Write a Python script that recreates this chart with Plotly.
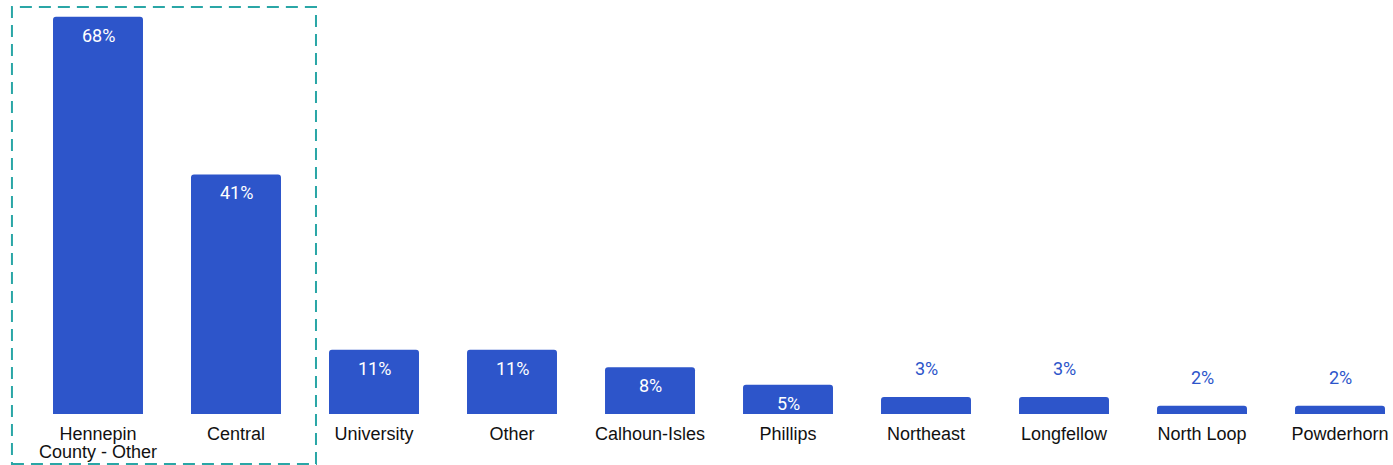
import plotly.graph_objects as go

categories = ["Hennepin<br>County - Other", "Central", "University", "Other", "Calhoun-Isles",
              "Phillips", "Northeast", "Longfellow", "North Loop", "Powderhorn"]
values = [68, 41, 11, 11, 8, 5, 2.9, 2.9, 1.4, 1.4]
value_labels = ["68%", "41%", "11%", "11%", "8%", "5%", "3%", "3%", "2%", "2%"]

BLUE = "#2D55CA"

SPAN = '<span style="font-size:18px">'
tick_text = [SPAN + c.replace("<br>", "</span><br>" + SPAN) + "</span>" for c in categories]

fig = go.Figure(go.Bar(
    x=categories, y=values,
    marker=dict(color=BLUE, cornerradius=3, line=dict(width=0)),
    hoverinfo="skip",
))

for c, v, t in zip(categories, values, value_labels):
    inside = v >= 5
    fig.add_annotation(
        x=c, y=v, text=t, showarrow=False,
        yanchor="top" if inside else "bottom",
        yshift=-6 if inside else 16,
        font=dict(family="Roboto", size=18, color="white" if inside else BLUE),
    )

fig.add_shape(type="rect", xref="paper", yref="paper",
              x0=-0.0125, x1=0.2104, y0=-0.122, y1=0.995,
              line=dict(color="#2AA6A6", width=2, dash="12px,7px"))

fig.update_layout(
    width=1393, height=465,
    margin=dict(l=29, r=0, t=5, b=51, autoexpand=False),
    paper_bgcolor="white", plot_bgcolor="white",
    bargap=0.348, showlegend=False,
    xaxis=dict(range=[-0.5, 9.384], showgrid=False, zeroline=False, showline=False,
               automargin=False, ticks="", ticklabelstandoff=11,
               tickmode="array", tickvals=categories, ticktext=tick_text,
               tickfont=dict(family="Liberation Sans", size=14, color="#111")),
    yaxis=dict(range=[0, 70], visible=False, automargin=False),
)

fig.write_html("out.html", config={"displayModeBar": False},
               post_script="document.body.style.margin='0';document.body.style.overflow='hidden';")
